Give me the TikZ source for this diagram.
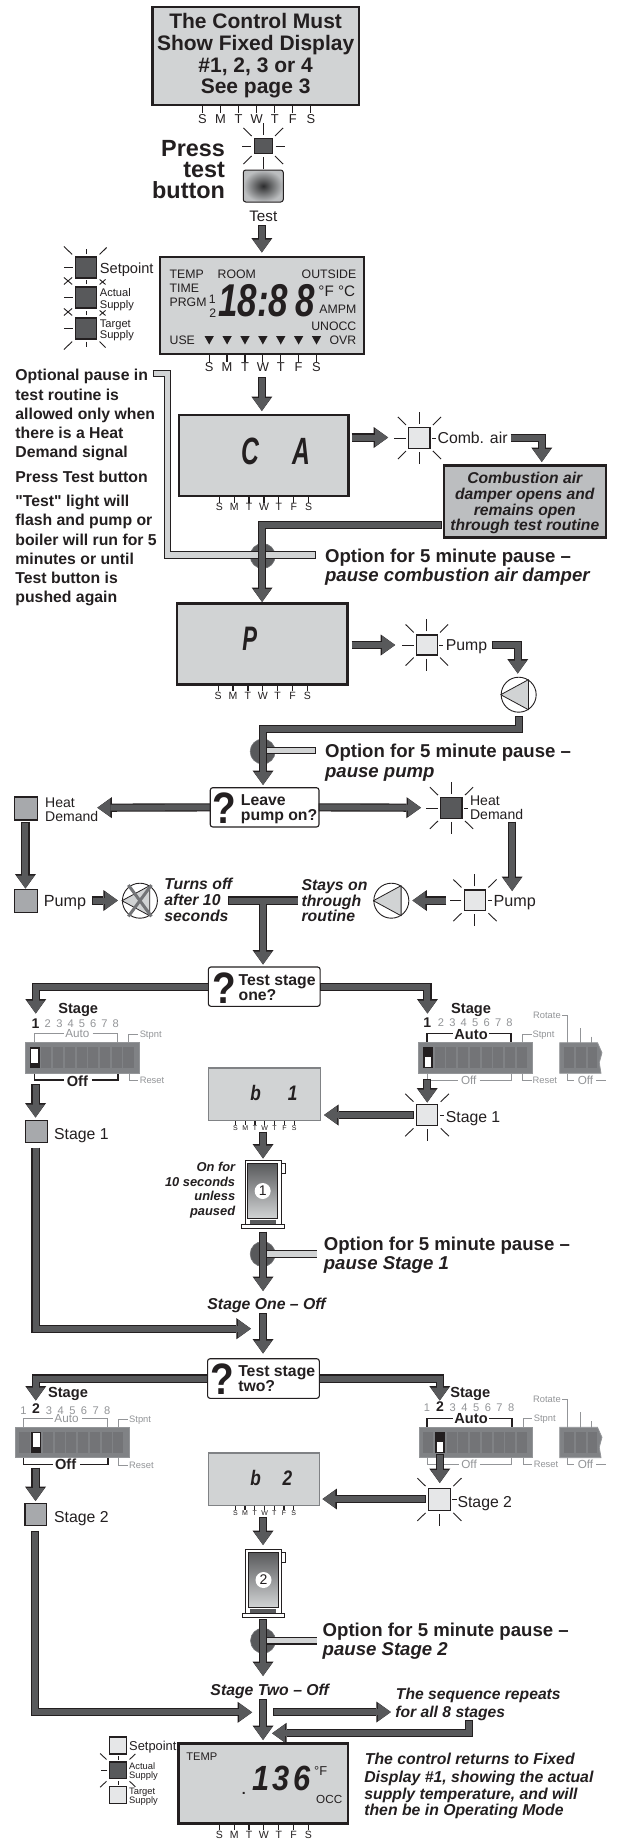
\documentclass[tikz,border=0pt]{standalone}
\usepackage{fontspec}
\setmainfont{Liberation Sans}[Ligatures=TeXOff]
\usepackage{graphicx}
\usetikzlibrary{arrows.meta,shapes.geometric}
\definecolor{ink}{HTML}{231F20}
\definecolor{lcd}{HTML}{D1D3D4}
\definecolor{midg}{HTML}{A7A9AC}
\definecolor{darkg}{HTML}{58595B}
\definecolor{pale}{HTML}{E6E7E8}
\definecolor{infog}{HTML}{BCBEC0}
\definecolor{greyt}{HTML}{939598}
\definecolor{bodyg}{HTML}{808285}
\definecolor{slotg}{HTML}{737477}
\newcommand{\fs}[1]{\fontsize{\fpeval{#1*1.17}}{\fpeval{#1*1.17}}\selectfont}
\tikzset{
 txt/.style={inner sep=0pt,text=ink,text height={#1*0.842pt},text depth=0pt,font=\fs{#1}},
 txtb/.style={inner sep=0pt,text=ink,text height={#1*0.842pt},text depth=0pt,font=\fs{#1}\bfseries},
 txti/.style={inner sep=0pt,text=ink,text height={#1*0.842pt},text depth=0pt,font=\fs{#1}\bfseries\itshape},
 txtg/.style={inner sep=0pt,text=greyt,text height={#1*0.842pt},text depth=0pt,font=\fs{#1}},
 seg/.style={inner sep=0pt,text=ink,text height={#1*0.72pt},text depth=0pt,font=\fontsize{#1}{#1}\selectfont\bfseries\itshape},
 qmark/.style={inner sep=0pt,text=ink,text height={#1*0.72pt},text depth=0pt,font=\fontsize{#1}{#1}\selectfont\bfseries},
 flow/.style={preaction={draw=ink,line width=8.2pt,shorten <=-0.8pt,-{Triangle[length=14.5pt,width=21pt,line width=0pt]}},draw=darkg,line width=6pt,miter limit=10,-{Triangle[length=13pt,width=18pt,line width=0pt]}},
 flowline/.style={preaction={draw=ink,line width=8.2pt,shorten <=-0.8pt,shorten >=-0.8pt},draw=darkg,line width=6pt},
 pauseline/.style={preaction={draw=ink,line width=7.6pt,shorten <=-0.8pt,shorten >=-0.8pt},draw=lcd,line width=5.4pt},
 pausedot/.style={circle,fill=darkg,draw=slotg,line width=.6pt,minimum size=25pt,inner sep=0pt},
 daytick/.style={draw=ink,line width=1.2pt},
 ray/.style={draw=ink,line width=.9pt},
 lamp/.style={draw=ink,line width=1.1pt,inner sep=0pt},
 dispbox/.style={draw=ink,line width=2.6pt,fill=lcd,inner sep=0pt},
 smallbox/.style={draw=bodyg,line width=1.2pt,fill=lcd,inner sep=0pt},
 askbox/.style={draw=ink,line width=1.1pt,fill=white,rounded corners=2.5pt,inner sep=0pt},
 brk/.style={draw=greyt,line width=.9pt},
 brkb/.style={draw=ink,line width=1.5pt},
}
% box given by its corners (x in the picture's units, 1.1727pt each)
\newcommand{\cbox}[6]{\node[#1,anchor=center,minimum width={((#5)-(#3))*1.1727},minimum height={(#6)-(#4)}] (#2) at ({((#3)+(#5))/2},{((#4)+(#6))/2}) {};}
\newcommand{\dayrow}[6]{\foreach \l [count=\i from 0] in {S,M,T,W,T,F,S}{
 \draw[daytick] ({#2+\i*#3},#4) -- ({#2+\i*#3},{#4+#5});
 \node[txt=#6] (#1\i) at ({#2+\i*#3},{#4+#5+#6*.5}) {\l};}}
\newcommand{\raysdiag}[1]{
 \draw[ray] ([shift={(-2,-2)}]#1.north west) -- ++(-7,-8);
 \draw[ray] ([shift={(2,-2)}]#1.north east) -- ++(7,-8);
 \draw[ray] ([shift={(-2,2)}]#1.south west) -- ++(-7,8);
 \draw[ray] ([shift={(2,2)}]#1.south east) -- ++(7,8);}
\newcommand{\raysleft}[1]{\draw[ray] ([xshift=-2.5pt]#1.west) -- ++(-10,0);}
\newcommand{\raystop}[1]{\draw[ray] ([shift={(0,-3)}]#1.north) -- ++(0,-12);}
\newcommand{\raysbot}[1]{\draw[ray] ([shift={(0,3)}]#1.south) -- ++(0,12);}
\newcommand{\raysstub}[1]{\draw[ray] ([xshift=1.5pt]#1.east) -- ++(3.5,0);}
\newcommand{\pump}[3]{
 \node[ellipse,draw=ink,line width=.9pt,fill=white,minimum width=35pt,minimum height=35pt,inner sep=0pt] (#1) at (#2,#3) {};
 \draw[draw=ink,line width=.8pt,fill=lcd,line join=round] (#1.west) -- (#1.57) -- (#1.-57) -- cycle;}
\newcommand{\dip}[5]{
 \cbox{draw=greyt,line width=.8pt,fill=bodyg,inner sep=0pt}{#1}{#2}{#3}{#2+97}{#3+30.6}
 \foreach \i in {0,...,8}{\cbox{fill=slotg,inner sep=0pt}{#1s\i}{#2+3.6+10*\i}{#3+4.6}{#2+12.2+10*\i}{#3+25.6}}
 \cbox{fill=ink,inner sep=0pt}{#1k}{#2+3.6+10*#4}{#3+4.6}{#2+12.2+10*#4}{#3+25.6}
 \ifnum#5=1 \cbox{fill=white,inner sep=0pt}{#1w}{#2+5+10*#4}{#3+6}{#2+10.8+10*#4}{#3+20}
 \else \cbox{fill=white,inner sep=0pt}{#1w}{#2+5+10*#4}{#3+14.5}{#2+10.8+10*#4}{#3+24.5}\fi}
\newcommand{\boiler}[6]{
 \cbox{draw=ink,line width=.8pt,fill=white,inner sep=0pt}{#1o}{#2}{#3}{#2+30.7}{#3+64}
 \cbox{draw=ink,line width=.8pt,fill=white,inner sep=0pt}{#1t}{#2+30.7}{#3+3.5}{#2+34}{#3+13.5}
 \cbox{draw=ink,line width=.8pt,shading=axis,top color=darkg,bottom color=lcd,inner sep=0pt}{#1i}{#2+2.3}{#3+3}{#2+27.7}{#3+58}
 \cbox{fill=darkg,inner sep=0pt}{#1u}{#2+4.3}{#3+60}{#2+26}{#3+63.5}
 \cbox{draw=ink,line width=.8pt,fill=white,inner sep=0pt}{#1b}{#2-3}{#3+64.3}{#2+33.3}{#3+68.3}
 \node[circle,fill=white,minimum size=16pt,inner sep=0pt,text=ink,font=\fontsize{14}{14}\selectfont] (#1n) at (#4,#5) {#6};}
\begin{document}
\begin{tikzpicture}[x=1.1727pt,y=-1pt]
\useasboundingbox (0,0) rectangle (527,1839);
\fill[white] (0,0) rectangle (527,1839);
% ---- first display
\node[dispbox,minimum width=206.4pt,minimum height=98pt,align=center,text=ink,font=\fontsize{21}{21.6}\selectfont\bfseries] (fixed) at (218,56) {The Control Must\\Show Fixed Display\\\#1, 2, 3 or 4\\See page 3};
\dayrow{da}{172.7}{15.4}{106}{7}{11}
% ---- test lamp and button
\node[lamp,fill=darkg,minimum width=17.6pt,minimum height=15pt] (testlamp) at (224.5,146) {};
\raysdiag{testlamp}
\draw[ray] ([xshift=-3pt]testlamp.west) -- ++(-8,0);
\draw[ray] ([xshift=3pt]testlamp.east) -- ++(8,0);
\raystop{testlamp}
\raysbot{testlamp}
\node[txtb=20,anchor=east] (press1) at (192,148) {Press};
\node[txtb=20,anchor=east] (press2) at (192,169) {test};
\node[txtb=20,anchor=east] (press3) at (192,190) {button};
\node[draw=ink,line width=1pt,rounded corners=2.5pt,inner sep=0pt,minimum width=40pt,minimum height=32pt,shading=radial,inner color=darkg!50!black,outer color=infog] (button) at (224.5,186) {};
\node[txt=13] (testlbl) at (224.5,216.5) {Test};
\coordinate (a1s) at (223.3,226);
\coordinate (a1e) at (223.3,252.5);
\draw[flow] (a1s) -- (a1e);
% ---- three lamps
\node[lamp,fill=darkg,minimum width=21.1pt,minimum height=21pt] (lsp) at (73.5,267.5) {};
\node[lamp,fill=darkg,minimum width=21.1pt,minimum height=21pt] (las) at (73.5,297.5) {};
\node[lamp,fill=darkg,minimum width=21.1pt,minimum height=21pt] (lts) at (73.5,328.5) {};
\draw[ray] ([shift={(-2.5,-2)}]lsp.north west) -- ++(-7,-8);
\draw[ray] ([shift={(2,-2)}]lsp.north east) -- ++(6,-7);
\draw[ray] ([shift={(0,-2)}]lsp.north) -- ++(0,-5);
\foreach \n in {lsp,las,lts}{\draw[ray] ([xshift=-2.5pt]\n.west) -- ++(-7,0);}
\foreach \n in {las,lts}{
 \draw[ray] ([shift={(0,-2)}]\n.north) -- ++(0,-4);
 \draw[ray] ([shift={(-2.5,-2)}]\n.north west) -- ++(-7,-7);
 \draw[ray] ([shift={(-2.5,-9)}]\n.north west) -- ++(-7,7);
 \draw[ray] ([shift={(2,-2)}]\n.north east) -- ++(5,-5);
 \draw[ray] ([shift={(2,-7)}]\n.north east) -- ++(5,5);}
\draw[ray] ([shift={(0,2)}]lts.south) -- ++(0,5);
\draw[ray] ([shift={(-2.5,2)}]lts.south west) -- ++(-7,8);
\draw[ray] ([shift={(2,2)}]lts.south east) -- ++(5,6);
\node[txt=12.5,anchor=west] (t1) at (85,268) {Setpoint};
\node[txt=9.5,anchor=west] (t2) at (85,292.5) {Actual};
\node[txt=9.5,anchor=west] (t3) at (85,304.5) {Supply};
\node[txt=9.5,anchor=west] (t4) at (85,323.5) {Target};
\node[txt=9.5,anchor=west] (t5) at (85,334.5) {Supply};
% ---- full display
\cbox{dispbox}{full}{136.5}{257}{310.5}{354}
\node[txt=10.5,anchor=west] (f1) at (144.5,274) {TEMP};
\node[txt=10.5,anchor=west] (f2) at (185.5,274) {ROOM};
\node[txt=10.5,anchor=east] (f3) at (304,274) {OUTSIDE};
\node[txt=10.5,anchor=west] (f4) at (144.5,288) {TIME};
\node[txt=10.5,anchor=west] (f5) at (144.5,302) {PRGM};
\node[txt=10.5] (f6) at (181,299) {1};
\node[txt=10.5] (f7) at (181.5,313) {2};
\node[seg=46,anchor=west] (f8) at (186,300) {\scalebox{.76}[1]{18:8\kern9.4pt 8}};
\node[txt=13,anchor=east] (f9) at (303,291) {°F °C};
\node[txt=10.5,anchor=east] (f10) at (304,309) {AMPM};
\node[txt=10.5,anchor=east] (f11) at (304,326) {UNOCC};
\node[txt=10.5,anchor=west] (f12) at (144.5,340) {USE};
\node[txt=10.5,anchor=east] (f13) at (304,340) {OVR};
\foreach \i in {0,...,6}{\fill[ink] ({178.4+\i*15.25-4},336) -- ({178.4+\i*15.25+4},336) -- ({178.4+\i*15.25},344.5) -- cycle;}
\dayrow{db}{178.4}{15.25}{354.5}{7}{11}
\coordinate (a2s) at (223.3,378);
\coordinate (a2e) at (223.3,411);
\draw[flow] (a2s) -- (a2e);
% ---- note on the left
\node[txtb=13.5,anchor=west] (n1) at (13,374.7) {Optional pause in};
\node[txtb=13.5,anchor=west] (n2) at (13,394.7) {test routine is};
\node[txtb=13.5,anchor=west] (n3) at (13,413.7) {allowed only when};
\node[txtb=13.5,anchor=west] (n4) at (13,432.7) {there is a Heat};
\node[txtb=13.5,anchor=west] (n5) at (13,451.7) {Demand signal};
\node[txtb=13.5,anchor=west] (n6) at (13,476.7) {Press Test button};
\node[txtb=13.5,anchor=west] (n7) at (13,500.7) {"Test" light will};
\node[txtb=13.5,anchor=west] (n8) at (13,519.7) {flash and pump or};
\node[txtb=13.5,anchor=west] (n9) at (13,539.7) {boiler will run for 5};
\node[txtb=13.5,anchor=west] (n10) at (13,558.7) {minutes or until};
\node[txtb=13.5,anchor=west] (n11) at (13,577.7) {Test button is};
\node[txtb=13.5,anchor=west] (n12) at (13,596.7) {pushed again};
% ---- CA display
\cbox{dispbox}{ca}{152.5}{415}{297}{496}
\node[seg=38] (ca1) at (213.5,450.5) {\scalebox{.65}[1]{C}};
\node[seg=38] (ca2) at (257,450.5) {\scalebox{.65}[1]{A}};
\dayrow{dc}{187}{12.7}{496.5}{6}{9}
\coordinate (a3s) at (300.5,437.5);
\coordinate (a3e) at (331,437.5);
\draw[flow] (a3s) -- (a3e);
\node[lamp,fill=pale,minimum width=21.1pt,minimum height=21pt] (cal) at (357.7,438) {};
\raysdiag{cal}\raysleft{cal}\raystop{cal}\raysbot{cal}\raysstub{cal}
\node[txt=13.5,anchor=west] (call) at (373,438) {Comb. air};
\cbox{dispbox,fill=infog}{damper}{378.7}{465.3}{516.7}{537.3}
\node[txti=13.4] (dm1) at (447.5,477.5) {Combustion air};
\node[txti=13.4] (dm2) at (447.5,494) {damper opens and};
\node[txti=13.4] (dm3) at (447.5,509.5) {remains open};
\node[txti=13.4] (dm4) at (447.5,525) {through test routine};
\coordinate (a4s) at (436,437.7);
\coordinate (a4e) at (462,462);
\draw[flow] (a4s) -| (a4e);
% ---- pause 1
\node[pausedot] (dot1) at (224,556) {};
\coordinate (g1a) at (131,373.5);
\coordinate (g1b) at (142.8,555);
\coordinate (g1c) at (269,555);
\draw[pauseline,line join=miter] (g1a) -| (g1b) -- (g1c);
\coordinate (a5s) at (376,525);
\coordinate (a5e) at (223.5,602);
\draw[flow] (a5s) -| (a5e);
\node[txtb=15.9,anchor=west] (o1) at (277,555.7) {Option for 5 minute pause –};
\node[txti=15.9,anchor=west] (o2) at (277,575) {pause combustion air damper};
% ---- P display
\cbox{dispbox}{pdisp}{151}{603.3}{296.3}{684.3}
\node[seg=34] (pp) at (213,638.5) {\scalebox{.65}[1]{P}};
\dayrow{dd}{186}{12.7}{684.8}{6}{9}
\coordinate (a6s) at (300.5,645);
\coordinate (a6e) at (337,645);
\draw[flow] (a6s) -- (a6e);
\node[lamp,fill=pale,minimum width=20.4pt,minimum height=20pt] (pl) at (364,645) {};
\raysdiag{pl}\raysleft{pl}\raystop{pl}\raysbot{pl}\raysstub{pl}
\node[txt=13.5,anchor=west] (pll) at (380,645) {Pump};
\coordinate (a7s) at (420,645);
\coordinate (a7e) at (441.5,673.5);
\draw[flow] (a7s) -| (a7e);
\pump{pm1}{442.3}{694.7}
% ---- pause 2
\node[pausedot] (dot2) at (224,751.5) {};
\coordinate (g2a) at (226,750.5);
\coordinate (g2b) at (269,750.5);
\draw[pauseline] (g2a) -- (g2b);
\coordinate (a8s) at (442.3,716.7);
\coordinate (a8m) at (224.3,729.3);
\coordinate (a8e) at (224.3,785);
\draw[flow] (a8s) |- (a8m) -- (a8e);
\node[txtb=15.9,anchor=west] (o3) at (277,750.7) {Option for 5 minute pause –};
\node[txti=15.9,anchor=west] (o4) at (277,771) {pause pump};
% ---- leave pump on
\cbox{askbox}{leave}{179.3}{787.7}{272}{827}
\node[qmark=44] (q1) at (191.7,807.5) {\scalebox{.88}[1]{?}};
\node[txtb=13.5,anchor=west] (q1a) at (205.3,799.5) {Leave};
\node[txtb=13.5,anchor=west] (q1b) at (205.3,814.5) {pump on?};
\coordinate (lft) at (83,807.7);
\coordinate (rgt) at (359,807.7);
\draw[flow] (leave.west) -- (lft);
\draw[flow] (leave.east) -- (rgt);
\cbox{lamp,fill=midg}{hdl}{12.7}{797}{32.3}{820}
\node[txt=12,anchor=west] (h1) at (38.3,802.7) {Heat};
\node[txt=12,anchor=west] (h2) at (38.3,816.7) {Demand};
\node[lamp,fill=darkg,minimum width=21.1pt,minimum height=20.6pt] (hdr) at (385,808) {};
\raysdiag{hdr}\raysleft{hdr}\raystop{hdr}\raysbot{hdr}\raysstub{hdr}
\node[txt=12,anchor=west] (h3) at (400.7,800.7) {Heat};
\node[txt=12,anchor=west] (h4) at (400.7,814.5) {Demand};
\coordinate (a9s) at (21.7,822.5);
\coordinate (a9e) at (21.7,888.5);
\draw[flow] (a9s) -- (a9e);
\coordinate (a10s) at (436.7,822.5);
\coordinate (a10e) at (436.7,891);
\draw[flow] (a10s) -- (a10e);
\cbox{lamp,fill=midg}{pml}{12.7}{889.3}{32.3}{912.7}
\node[txt=13.8,anchor=west] (pml2) at (37.3,900.7) {Pump};
\coordinate (a11s) at (79,900.5);
\coordinate (a11e) at (100.5,900.5);
\draw[flow] (a11s) -- (a11e);
\pump{pmx}{119.3}{900.7}
\draw[draw=slotg,line width=3pt] ([shift={(1,-3)}]pmx.north west) -- ([shift={(-1,3)}]pmx.south east);
\draw[draw=slotg,line width=3pt] ([shift={(-1,-3)}]pmx.north east) -- ([shift={(1,3)}]pmx.south west);
\node[txti=13.5,anchor=west] (x1) at (140,884) {Turns off};
\node[txti=13.5,anchor=west] (x2) at (140,900) {after 10};
\node[txti=13.5,anchor=west] (x3) at (140,916) {seconds};
\node[txti=13.5,anchor=west] (x4) at (257,885) {Stays on};
\node[txti=13.5,anchor=west] (x5) at (257,901) {through};
\node[txti=13.5,anchor=west] (x6) at (257,916) {routine};
\coordinate (tl) at (195,900.5);
\coordinate (tr) at (253.7,900.5);
\coordinate (tm) at (224.3,900.5);
\coordinate (te) at (224.3,964.5);
\draw[flow] (tm) -- (te);
\draw[flowline] (tl) -- (tr);
\draw[draw=darkg,line width=6pt] (224.3,899) -- (224.3,910);
\pump{pm2}{333.7}{900.7}
\coordinate (a12s) at (380,900.5);
\coordinate (a12e) at (351.7,900.5);
\draw[flow] (a12s) -- (a12e);
\node[lamp,fill=pale,minimum width=21.1pt,minimum height=20.6pt] (pr) at (405,900.3) {};
\raysdiag{pr}\raysleft{pr}\raystop{pr}\raysbot{pr}\raysstub{pr}
\node[txt=13.8,anchor=west] (prl) at (420.7,900.7) {Pump};
% ---- test stage one
\cbox{askbox}{one}{177.7}{967}{273}{1006.3}
\node[qmark=44] (q2) at (191,987.5) {\scalebox{.88}[1]{?}};
\node[txtb=13.5,anchor=west] (q2a) at (203.3,979.7) {Test stage};
\node[txtb=13.5,anchor=west] (q2b) at (203.3,994.7) {one?};
\coordinate (b1) at (30.5,1013.5);
\coordinate (b2) at (364.5,1013.5);
\draw[flow] (one.west) -| (b1);
\draw[flow] (one.east) -| (b2);
\node[txtb=12.5] (s1a) at (66.7,1008.5) {Stage};
\node[txtb=12.5] (s1b) at (401.7,1008.5) {Stage};
% left switch block, stage 1
\node[txtb=12] (l1n1) at (30.3,1023.3) {1};
\foreach \v/\xx in {2/40.7,3/50.7,4/60.3,5/70,6/79.5,7/89,8/98.7}{\node[txtg=9.5] (l1n\v) at (\xx,1023.8) {\v};}
\draw[brk] (29.3,1043) |- (55,1033.7);
\node[txtg=10] (l1au) at (66,1033.7) {Auto};
\draw[brk] (79,1033.7) -| (100.3,1043);
\draw[brk] (109.3,1043) |- (118,1034);
\node[txtg=8,anchor=west] (l1st) at (119,1034) {Stpnt};
\dip{l1}{21.7}{1042.7}{0}{1}
\draw[brkb] (29.3,1073.5) |- (55,1080);
\node[txtb=12.5] (l1of) at (66,1081) {Off};
\draw[brkb] (78.3,1080) -| (100.7,1073.5);
\draw[brk] (110,1073.5) |- (118,1080);
\node[txtg=8,anchor=west] (l1re) at (119,1080) {Reset};
% right switch block, stage 1
\node[txtb=12] (r1n1) at (364.3,1022) {1};
\foreach \v/\xx in {2/376,3/385.8,4/395.5,5/405.3,6/415,7/424.8,8/434.5}{\node[txtg=9.5] (r1n\v) at (\xx,1022.5) {\v};}
\draw[brkb] (364.3,1043) |- (386.7,1033.3);
\node[txtb=12.5] (r1au) at (401.7,1034) {Auto};
\draw[brkb] (417.3,1033.3) -| (435.7,1043);
\draw[brk] (445.3,1043) |- (453.5,1034);
\node[txtg=8,anchor=west] (r1st) at (454,1034) {Stpnt};
\dip{r1}{357}{1042.7}{0}{0}
\draw[brk] (364.3,1073.5) |- (390.7,1080);
\node[txtg=10] (r1of) at (399.7,1080.3) {Off};
\draw[brk] (409,1080) -| (435.7,1073.5);
\draw[brk] (445.3,1073.5) |- (453.5,1080);
\node[txtg=8,anchor=west] (r1re) at (454,1080) {Reset};
% partial switch, stage 1
\node[txtg=8,anchor=east] (p1ro) at (478.3,1015.3) {Rotate};
\draw[brk] (479.3,1015.3) -| (484,1043);
\draw[brk] (494.7,1028) -- (494.7,1043);
\draw[brk] (504.3,1036.7) -- (504.3,1043);
\draw[draw=greyt,line width=.8pt,fill=bodyg] (477.3,1042.7) -- (509.5,1042.7) -- (513.3,1052.7) -- (511,1062.7) -- (512.5,1073.3) -- (477.3,1073.3) -- cycle;
\foreach \xx in {481,491,501}{\fill[slotg] (\xx,1047.3) rectangle ({\xx+8.4},1068.3);}
\draw[brk] (484.3,1073.5) |- (489.3,1080);
\node[txtg=10] (p1of) at (499.3,1080.3) {Off};
\draw[brk] (508.3,1080) -- (516.7,1080);
% stage 1 lamps and display
\coordinate (c1) at (30.3,1085);
\coordinate (c1e) at (30.3,1117.5);
\draw[flow] (c1) -- (c1e);
\cbox{lamp,fill=midg}{st1l}{21.7}{1120.3}{40.3}{1142.3}
\node[txt=13.5,anchor=west] (st1lt) at (46,1134) {Stage 1};
\coordinate (c2) at (364.3,1079.5);
\coordinate (c2e) at (364.3,1102.5);
\draw[flow] (c2) -- (c2e);
\node[lamp,fill=pale,minimum width=21.5pt,minimum height=21.4pt] (st1r) at (364.2,1115) {};
\raysdiag{st1r}\raysbot{st1r}\raysstub{st1r}
\node[txt=13.5,anchor=west] (st1rt) at (380,1117.3) {Stage 1};
\coordinate (c3) at (352.3,1115);
\coordinate (c3e) at (276.3,1115);
\draw[flow] (c3) -- (c3e);
\cbox{smallbox}{b1d}{178}{1068}{273}{1120.7}
\node[seg=21] (b1a) at (218,1092.5) {\scalebox{.82}[1]{b}};
\node[seg=21] (b1b) at (249.5,1092.5) {\scalebox{.82}[1]{1}};
\dayrow{de}{200.7}{8.37}{1121}{4}{6}
\coordinate (c4) at (224.3,1132.5);
\coordinate (c4e) at (224.3,1158.5);
\draw[flow] (c4) -- (c4e);
\boiler{bo1}{209}{1160}{224}{1191}{1}
\node[txti=11,anchor=east] (on1) at (200.7,1167.3) {On for};
\node[txti=11,anchor=east] (on2) at (200.7,1181.7) {10 seconds};
\node[txti=11,anchor=east] (on3) at (200.7,1195.7) {unless};
\node[txti=11,anchor=east] (on4) at (200.7,1210.7) {paused};
\node[pausedot] (dot3) at (224,1254) {};
\coordinate (g3a) at (226,1254);
\coordinate (g3b) at (270,1254);
\draw[pauseline] (g3a) -- (g3b);
\coordinate (c5) at (224.3,1232.5);
\coordinate (c5e) at (224.3,1291);
\draw[flow] (c5) -- (c5e);
\node[txtb=15.9,anchor=west] (o5) at (276,1244) {Option for 5 minute pause –};
\node[txti=15.9,anchor=west] (o6) at (276,1262.7) {pause Stage 1};
\node[txti=13.5] (off1) at (227.3,1303.5) {Stage One – Off};
\coordinate (c6) at (224.3,1314);
\coordinate (c6e) at (224.3,1353.5);
\draw[flow] (c6) -- (c6e);
\coordinate (c7) at (30.3,1148.3);
\coordinate (c7e) at (214,1328.7);
\draw[flow] (c7) |- (c7e);
% ---- test stage two
\cbox{askbox}{two}{177}{1358.7}{272.3}{1398.3}
\node[qmark=44] (q3) at (190,1379) {\scalebox{.88}[1]{?}};
\node[txtb=13.5,anchor=west] (q3a) at (203,1370.7) {Test stage};
\node[txtb=13.5,anchor=west] (q3b) at (203,1386) {two?};
\coordinate (d1) at (30.5,1400.5);
\coordinate (d2) at (375,1400.5);
\draw[flow] (two.west) -| (d1);
\draw[flow] (two.east) -| (d2);
\node[txtb=12.5] (s2a) at (58,1392.5) {Stage};
\node[txtb=12.5] (s2b) at (401,1392.5) {Stage};
% left switch block, stage 2
\node[txtg=9.5] (l2n1) at (20,1410) {1};
\node[txtb=12] (l2n2) at (30.7,1408.7) {2};
\foreach \v/\xx in {3/41.7,4/51.7,5/61.7,6/71.7,7/81.7,8/91.5}{\node[txtg=9.5] (l2n\v) at (\xx,1410) {\v};}
\draw[brk] (20,1427.5) |- (45,1418.7);
\node[txtg=10] (l2au) at (56.7,1418.7) {Auto};
\draw[brk] (70,1418.7) -| (91.7,1427.5);
\draw[brk] (100.7,1427.5) |- (109,1419);
\node[txtg=8,anchor=west] (l2st) at (110,1419) {Stpnt};
\dip{l2}{13}{1427.2}{1}{1}
\draw[brkb] (20,1458) |- (45,1464.7);
\node[txtb=12.5] (l2of) at (56,1464.5) {Off};
\draw[brkb] (68.3,1464.7) -| (92,1458);
\draw[brk] (100.7,1458) |- (109,1465);
\node[txtg=8,anchor=west] (l2re) at (110,1465) {Reset};
% right switch block, stage 2
\node[txtg=9.5] (r2n1) at (364,1407.5) {1};
\node[txtb=12] (r2n2) at (375.3,1406.5) {2};
\foreach \v/\xx in {3/386,4/396,5/406,6/416,7/426,8/436}{\node[txtg=9.5] (r2n\v) at (\xx,1407.5) {\v};}
\draw[brkb] (364.3,1427.5) |- (386.7,1418.3);
\node[txtb=12.5] (r2au) at (401.7,1418) {Auto};
\draw[brkb] (417.3,1418.3) -| (436.7,1427.5);
\draw[brk] (446,1427.5) |- (454,1418.5);
\node[txtg=8,anchor=west] (r2st) at (455,1418.5) {Stpnt};
\dip{r2}{357.3}{1427.2}{1}{0}
\draw[brk] (364.3,1458) |- (391.7,1464.3);
\node[txtg=10] (r2of) at (400,1464.3) {Off};
\draw[brk] (409.3,1464.3) -| (436,1458);
\draw[brk] (446,1458) |- (454,1464.3);
\node[txtg=8,anchor=west] (r2re) at (455,1464.3) {Reset};
% partial switch, stage 2
\node[txtg=8,anchor=east] (p2ro) at (478.3,1399) {Rotate};
\draw[brk] (479.3,1399) -| (484,1427.5);
\draw[brk] (494.7,1412.3) -- (494.7,1427.5);
\draw[brk] (504.3,1421) -- (504.3,1427.5);
\draw[draw=greyt,line width=.8pt,fill=bodyg] (477.3,1427.3) -- (509.5,1427.3) -- (513.3,1437.3) -- (511,1447.3) -- (512.5,1457.7) -- (477.3,1457.7) -- cycle;
\foreach \xx in {481,491,501}{\fill[slotg] (\xx,1432) rectangle ({\xx+8.4},1453);}
\draw[brk] (484.3,1458) |- (489.3,1464.3);
\node[txtg=10] (p2of) at (499.3,1464.3) {Off};
\draw[brk] (508.3,1464.3) -- (516.7,1464.3);
% stage 2 lamps and display
\coordinate (e1) at (30.3,1468.5);
\coordinate (e1e) at (30.3,1501);
\draw[flow] (e1) -- (e1e);
\cbox{lamp,fill=midg}{st2l}{21.3}{1503.3}{40}{1525.7}
\node[txt=13.5,anchor=west] (st2lt) at (46,1516.7) {Stage 2};
\coordinate (e2) at (375,1455);
\coordinate (e2e) at (375,1483);
\draw[flow] (e2) -- (e2e);
\node[lamp,fill=pale,minimum width=21.9pt,minimum height=21.6pt] (st2r) at (374.7,1499.5) {};
\raysdiag{st2r}\raysbot{st2r}\raysstub{st2r}
\node[txt=13.5,anchor=west] (st2rt) at (390,1502) {Stage 2};
\coordinate (e3) at (362.3,1499);
\coordinate (e3e) at (275,1499);
\draw[flow] (e3) -- (e3e);
\cbox{smallbox}{b2d}{178}{1453}{272.7}{1505.7}
\node[seg=21] (b2a) at (218,1477.5) {\scalebox{.82}[1]{b}};
\node[seg=21] (b2b) at (245,1477.5) {\scalebox{.82}[1]{2}};
\dayrow{df}{200.7}{8.3}{1506}{4}{6}
\coordinate (e4) at (224.3,1517.7);
\coordinate (e4e) at (224.3,1545);
\draw[flow] (e4) -- (e4e);
\boiler{bo2}{209.3}{1549}{224.7}{1580}{2}
\node[pausedot] (dot4) at (224.3,1640.7) {};
\coordinate (g4a) at (226,1640.7);
\coordinate (g4b) at (270,1640.7);
\draw[pauseline] (g4a) -- (g4b);
\coordinate (e5) at (224.3,1620);
\coordinate (e5e) at (224.3,1676);
\draw[flow] (e5) -- (e5e);
\node[txtb=15.9,anchor=west] (o7) at (275,1629.3) {Option for 5 minute pause –};
\node[txti=15.9,anchor=west] (o8) at (275,1648.7) {pause Stage 2};
\node[txti=13.5] (off2) at (230,1689.5) {Stage Two – Off};
\coordinate (e6) at (224.3,1700);
\coordinate (e6e) at (224.3,1740);
\draw[flow] (e6) -- (e6e);
\coordinate (e7) at (30,1531.7);
\coordinate (e7e) at (215,1712.3);
\draw[flow] (e7) |- (e7e);
\coordinate (e8) at (233.3,1712);
\coordinate (e8e) at (333.3,1712);
\draw[flow] (e8) -- (e8e);
\node[txti=13.4,anchor=west] (rp1) at (337.5,1693.7) {The sequence repeats};
\node[txti=13.4,anchor=west] (rp2) at (337,1711.7) {for all 8 stages};
\coordinate (e9) at (400,1720.7);
\coordinate (e9e) at (232,1733.3);
\draw[flow] (e9) |- (e9e);
% ---- last display
\cbox{dispbox}{last}{152}{1743.3}{296.7}{1823.7}
\node[txt=9.5,anchor=west] (la1) at (158.7,1756) {TEMP};
\node[txtb=12] (la2) at (208,1789) {.};
\node[seg=35] (la3) at (240,1778) {\scalebox{.88}[1]{1\kern3.5pt 3\kern3.5pt 6}};
\node[txt=11] (la4) at (273.5,1771) {°F};
\node[txt=10,anchor=east] (la5) at (292,1799.5) {OCC};
\dayrow{dg}{187}{12.67}{1824.3}{6}{9}
\cbox{lamp,fill=pale}{z1}{93.3}{1737}{108}{1754}
\cbox{lamp,fill=darkg}{z2}{93.3}{1762}{108}{1778.7}
\cbox{lamp,fill=pale}{z3}{93.3}{1786.7}{108}{1803.3}
\draw[ray] ([shift={(-2,-2)}]z2.north west) -- ++(-5.5,-6);
\draw[ray] ([shift={(2,-2)}]z2.north east) -- ++(5,-5.5);
\draw[ray] ([shift={(-2,2)}]z2.south west) -- ++(-5.5,6);
\draw[ray] ([shift={(2,2)}]z2.south east) -- ++(5,5.5);
\draw[ray] ([shift={(0,-1.5)}]z2.north) -- ++(0,-4);
\draw[ray] ([shift={(0,1.5)}]z2.south) -- ++(0,4);
\draw[ray] ([xshift=-1.5pt]z2.west) -- ++(-5.5,0);
\node[txt=11,anchor=west] (z1a) at (110,1745.7) {Setpoint};
\node[txt=8,anchor=west] (z2a) at (110,1766) {Actual};
\node[txt=8,anchor=west] (z2b) at (110,1775.5) {Supply};
\node[txt=8,anchor=west] (z3a) at (110,1791) {Target};
\node[txt=8,anchor=west] (z3b) at (110,1800.5) {Supply};
\node[txti=13.5,anchor=west] (en1) at (311,1759) {The control returns to Fixed};
\node[txti=13.5,anchor=west] (en2) at (310.5,1776.7) {Display \#1, showing the actual};
\node[txti=13.5,anchor=west] (en3) at (310.5,1793.7) {supply temperature, and will};
\node[txti=13.5,anchor=west] (en4) at (310.5,1810) {then be in Operating Mode};
\end{tikzpicture}
\end{document}
